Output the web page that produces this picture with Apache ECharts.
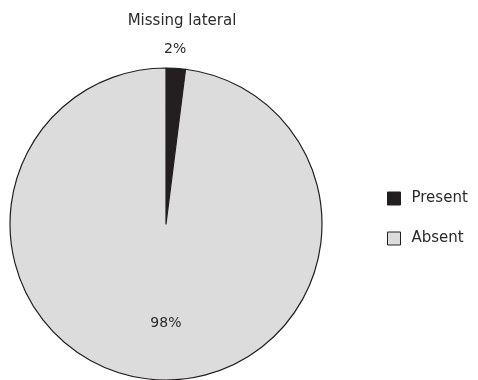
<!DOCTYPE html>
<html>
<head>
<meta charset="utf-8">
<script src="https://cdn.jsdelivr.net/npm/echarts@6/dist/echarts.min.js"></script>
<style>
  html, body { margin: 0; padding: 0; background: #fff; }
  #chart { width: 478px; height: 380px; }
</style>
</head>
<body>
<div id="chart"></div>
<script>
const categories = ['Present', 'Absent'];
const values = [2, 98];
const sliceColors = ['#231f20', '#dcdcdc'];
// label nudges so the text sits where the original put it
const labelOffsets = [[4, -94], [5, 19]];

const chart = echarts.init(document.getElementById('chart'));
const font = 'DejaVu Sans';

const option = {
    backgroundColor: '#fff',
    animation: false,
    title: {
        text: 'Missing lateral',
        left: 177,
        top: 9,
        textAlign: 'center',
        textStyle: { fontFamily: font, fontSize: 15, fontWeight: 'normal', color: '#2b2b2b' }
    },
    legend: {
        orient: 'vertical',
        left: 387,
        top: 191,
        padding: 0,
        itemWidth: 13,
        itemHeight: 13,
        itemGap: 25,
        icon: 'rect',
        data: categories,
        itemStyle: { borderColor: '#231f20', borderWidth: 1 },
        textStyle: { fontFamily: font, fontSize: 15, color: '#2b2b2b', padding: [0, 0, 0, 6] }
    },
    series: [{
        type: 'pie',
        center: [166, 224],
        radius: 156,
        startAngle: 90,
        clockwise: true,
        label: {
            show: true,
            position: 'inside',
            fontFamily: font,
            fontSize: 14,
            color: '#2b2b2b',
            formatter: p => p.value + '%'
        },
        labelLine: { show: false },
        emphasis: { disabled: true },
        itemStyle: { borderColor: '#231f20', borderWidth: 1.2 },
        data: categories.map((c, i) => ({
            name: c,
            value: values[i],
            itemStyle: { color: sliceColors[i] },
            label: { offset: labelOffsets[i] }
        }))
    }]
};

chart.setOption(option);
window.addEventListener('resize', () => chart.resize());
</script>
</body>
</html>
